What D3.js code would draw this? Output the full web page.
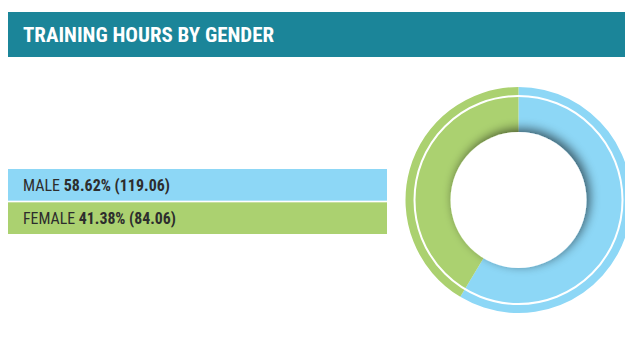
<!DOCTYPE html>
<html>
<head>
<meta charset="utf-8">
<script src="https://cdn.jsdelivr.net/npm/d3@7"></script>
<style>
  html, body { margin: 0; padding: 0; background: #fff; }
  svg { display: block; }
</style>
</head>
<body>
<svg id="chart" width="625" height="347"></svg>
<script>
// Training hours split by gender
const categories = ["MALE", "FEMALE"];
const percents = [58.62, 41.38];
const hours = [119.06, 84.06];
const colors = ["#8dd7f6", "#abd170"];
const title = "TRAINING HOURS BY GENDER";

const svg = d3.select("#chart");
const font = "'Liberation Sans Narrow', 'Arial Narrow', 'Roboto Condensed', sans-serif";

// Shadow cast by the donut's inner disc
const defs = svg.append("defs");
const f = defs.append("filter").attr("id", "discShadow")
  .attr("x", "-30%").attr("y", "-30%").attr("width", "160%").attr("height", "160%");
f.append("feGaussianBlur").attr("in", "SourceAlpha").attr("stdDeviation", 5.5).attr("result", "b");
f.append("feOffset").attr("in", "b").attr("dx", 3).attr("dy", -3).attr("result", "o");
f.append("feComponentTransfer").attr("in", "o").attr("result", "s")
  .append("feFuncA").attr("type", "linear").attr("slope", 0.6);
const m = f.append("feMerge");
m.append("feMergeNode").attr("in", "s");
m.append("feMergeNode").attr("in", "SourceGraphic");

// Header band
svg.append("rect").attr("x", 8).attr("y", 12).attr("width", 617).attr("height", 45)
  .attr("fill", "#1b8599");
svg.append("text").attr("x", 23).attr("y", 42)
  .attr("font-family", font).attr("font-weight", "bold").attr("font-size", 20)
  .attr("fill", "#fff")
  .attr("textLength", 251).attr("lengthAdjust", "spacingAndGlyphs")
  .text(title);

// Legend rows
const labelWidths = [147, 153];
const band = d3.scaleBand().domain(categories).range([169, 234]).paddingInner(0.05);
const rows = svg.append("g").selectAll("g").data(categories).join("g");
rows.append("rect")
  .attr("x", 8).attr("y", d => band(d)).attr("width", 379).attr("height", band.bandwidth())
  .attr("fill", (d, i) => colors[i]);

rows.each(function (d, i) {
  const line = d3.select(this).append("g");
  const name = line.append("text")
    .attr("x", 0).attr("y", 0)
    .attr("font-family", font).attr("font-size", 17).attr("fill", "#2d2d2d")
    .text(d);
  const gap = 4;
  const nameW = name.node().getComputedTextLength();
  const val = line.append("text")
    .attr("x", nameW + gap).attr("y", 0)
    .attr("font-family", font).attr("font-size", 17).attr("font-weight", "bold")
    .attr("fill", "#2d2d2d")
    .text(d3.format(".2f")(percents[i]) + "% (" + d3.format(".2f")(hours[i]) + ")");
  const total = nameW + gap + val.node().getComputedTextLength();
  const sx = labelWidths[i] / total;
  line.attr("transform",
    `translate(23,${band(d) + band.bandwidth() / 2 + 6}) scale(${sx},1)`);
});

// Donut
const cx = 518.5, cy = 200;
const rOuter = 113, rInner = 68;
const pie = d3.pie().sort(null).value(d => d)(hours);
const arc = d3.arc().innerRadius(rInner - 2).outerRadius(rOuter);
const g = svg.append("g").attr("transform", `translate(${cx},${cy})`);
g.selectAll("path").data(pie).join("path")
  .attr("d", arc).attr("fill", (d, i) => colors[i]);
// Thin white ring inside the band
g.append("circle").attr("r", 104).attr("fill", "none")
  .attr("stroke", "#fff").attr("stroke-width", 2);
// Inner disc with its soft shadow
g.append("circle").attr("r", rInner).attr("fill", "#fff")
  .attr("filter", "url(#discShadow)");
</script>
</body>
</html>
